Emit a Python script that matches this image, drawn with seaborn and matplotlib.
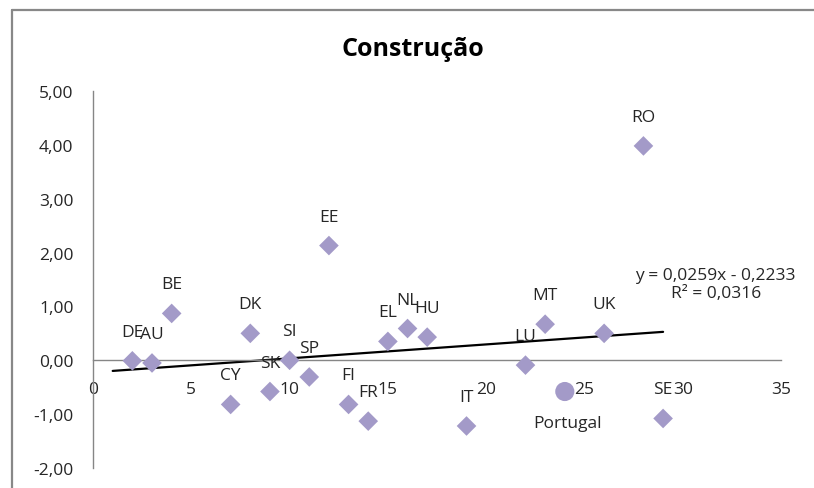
import pandas as pd
import numpy as np
import matplotlib
matplotlib.use('Agg')
import matplotlib.pyplot as plt
from matplotlib.lines import Line2D
from matplotlib.ticker import FuncFormatter
import seaborn as sns

# Data
countries = ['DE', 'AU', 'BE', 'CY', 'DK', 'SK', 'SI', 'SP', 'EE', 'FI', 'FR',
             'EL', 'NL', 'HU', 'IT', 'LU', 'MT', 'UK', 'RO', 'SE']
x_values = [2, 3, 4, 7, 8, 9, 10, 11, 12, 13, 14,
            15, 16, 17, 19, 22, 23, 26, 28, 29]
y_values = [-0.01, -0.05, 0.87, -0.82, 0.50, -0.58, 0.00, -0.31, 2.13, -0.82, -1.13,
            0.35, 0.59, 0.43, -1.22, -0.09, 0.67, 0.50, 3.98, -1.08]

portugal_x = [24]
portugal_y = [-0.58]

# Trend line (as reported on the chart)
slope = 0.0259
intercept = -0.2233
r_squared = 0.0316
trend_x = [1, 29]

MARKER_COLOR = '#A39AC8'
AXIS_COLOR = '#868686'
TEXT_COLOR = '#262626'
FS = 12.5

df = pd.DataFrame({'country': countries, 'x': x_values, 'y': y_values})
pt = pd.DataFrame({'country': ['Portugal'], 'x': portugal_x, 'y': portugal_y})
trend = pd.DataFrame({'x': trend_x})
trend['y'] = slope * trend['x'] + intercept

sns.set_style('white')
plt.rcParams['font.family'] = ['Open Sans', 'DejaVu Sans']

fig = plt.figure(figsize=(8.14, 4.89), dpi=100)
fig.patch.set_linewidth(0)
ax = fig.add_axes([0.1143, 0.0409, 0.8452, 0.7710])

sns.scatterplot(data=df, x='x', y='y', marker='D', s=100, color=MARKER_COLOR,
                edgecolor='none', ax=ax, zorder=3)
sns.scatterplot(data=pt, x='x', y='y', marker='o', s=190, color=MARKER_COLOR,
                edgecolor='none', ax=ax, zorder=3)
sns.lineplot(data=trend, x='x', y='y', color='black', linewidth=1.6, ax=ax, zorder=2)

# Data labels
for _, r in df.iterrows():
    ax.annotate(r['country'], (r['x'], r['y']), xytext=(0, 29), textcoords='offset pixels',
                ha='center', va='center', fontsize=FS, color=TEXT_COLOR)
for _, r in pt.iterrows():
    ax.annotate(r['country'], (r['x'], r['y']), xytext=(3, -31), textcoords='offset pixels',
                ha='center', va='center', fontsize=FS, color=TEXT_COLOR)

ax.text(0.905, 0.488,
        'y = {:.4f}x - {:.4f}\nR² = {:.4f}'.format(slope, -intercept, r_squared).replace('.', ','),
        transform=ax.transAxes, ha='center', va='center', fontsize=FS, color=TEXT_COLOR,
        linespacing=1.15)

ax.set_xlim(0, 35)
ax.set_ylim(-2, 5)
ax.set_xticks(range(0, 36, 5))
ax.set_yticks(range(-2, 6))
ax.yaxis.set_major_formatter(FuncFormatter(lambda v, p: '{:.2f}'.format(v).replace('.', ',')))
ax.set_xlabel('')
ax.set_ylabel('')

ax.spines['top'].set_visible(False)
ax.spines['right'].set_visible(False)
ax.spines['bottom'].set_position(('data', 0))
for s in ['left', 'bottom']:
    ax.spines[s].set_color(AXIS_COLOR)
    ax.spines[s].set_linewidth(1.0)

ax.tick_params(axis='x', direction='out', length=5, width=1.0, color=AXIS_COLOR,
               pad=10, labelsize=FS, labelcolor=TEXT_COLOR)
ax.tick_params(axis='y', direction='out', length=5, width=1.0, color=AXIS_COLOR,
               pad=9, labelsize=FS, labelcolor=TEXT_COLOR)
ax.patch.set_alpha(0)

fig.suptitle('Construção', x=0.507, y=0.925, fontsize=18, fontweight='bold', color='black')

# Chart area border (only the left and top edges show in the reference)
bx, by = 11.5 / 814, 1 - 10.5 / 489
fig.add_artist(Line2D([bx, bx], [0, by], transform=fig.transFigure, color='#888888', linewidth=1.6))
fig.add_artist(Line2D([bx, 1.01], [by, by], transform=fig.transFigure, color='#888888', linewidth=1.6))

fig.savefig('out.png', dpi=100)
